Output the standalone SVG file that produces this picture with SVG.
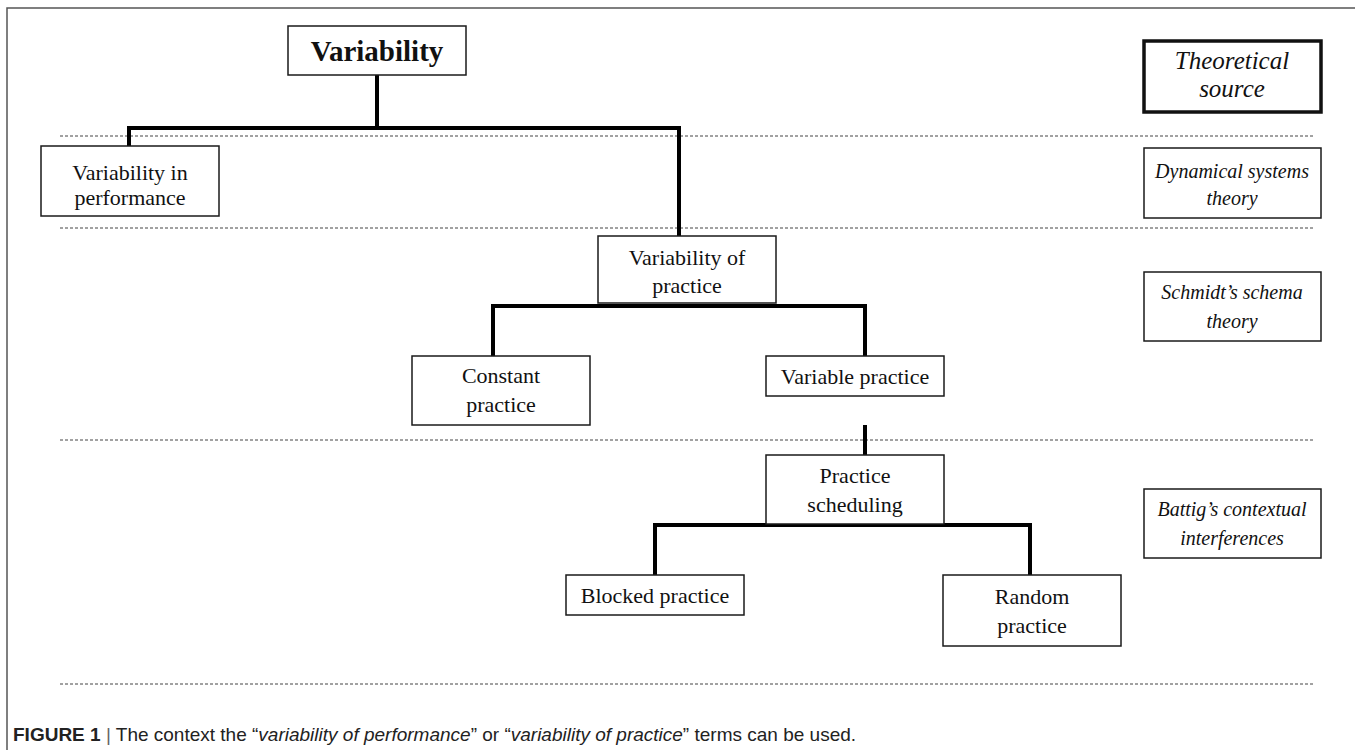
<svg xmlns="http://www.w3.org/2000/svg" width="1355" height="750" viewBox="0 0 1355 750">
<style>
.frame{fill:none;stroke:#555;stroke-width:1.5}
.dash{fill:none;stroke:#444;stroke-width:1;stroke-dasharray:3 2}
.box{fill:#fff;stroke:#1a1a1a;stroke-width:1.5}
.boxb{fill:#fff;stroke:#111;stroke-width:3.5}
.conn{fill:none;stroke:#000;stroke-width:4;stroke-linejoin:miter;stroke-linecap:butt}
.t{font-family:"Liberation Serif","Times New Roman",serif;font-size:22px;fill:#111;text-anchor:middle}
.ti{font-family:"Liberation Serif","Times New Roman",serif;font-size:20px;font-style:italic;fill:#111;text-anchor:middle}
.cap{font-family:"Liberation Sans",Arial,sans-serif;font-size:19px;fill:#222}
</style>
<rect width="1355" height="750" fill="#fff"/>
<path class="frame" d="M7,750 V8 H1355"/>
<g id="separators">
<line class="dash" x1="60" y1="136" x2="1313" y2="136"/>
<line class="dash" x1="60" y1="228" x2="1313" y2="228"/>
<line class="dash" x1="60" y1="440" x2="1313" y2="440"/>
<line class="dash" x1="60" y1="684" x2="1313" y2="684"/>
</g>
<g id="connectors">
<path class="conn" d="M377,75 V128"/>
<path class="conn" d="M129,146 V128 H679 V236"/>
<path class="conn" d="M493,356 V306 H865 V356"/>
<path class="conn" d="M865,425 V455"/>
<path class="conn" d="M655,575 V525 H1030 V575"/>
</g>
<g id="n-variability">
<rect class="box" x="288" y="26" width="178" height="49"/>
<text class="t" x="377" y="61" style="font-size:29px;font-weight:bold">Variability</text>
</g>
<g id="n-perf">
<rect class="box" x="41" y="146" width="178" height="70"/>
<text class="t" x="130" y="180">Variability in</text>
<text class="t" x="130" y="205">performance</text>
</g>
<g id="n-vpractice">
<rect class="box" x="598" y="236" width="178" height="67"/>
<text class="t" x="687" y="265">Variability of</text>
<text class="t" x="687" y="293">practice</text>
</g>
<g id="n-constant">
<rect class="box" x="412" y="356" width="178" height="69"/>
<text class="t" x="501" y="383">Constant</text>
<text class="t" x="501" y="412">practice</text>
</g>
<g id="n-variable">
<rect class="box" x="766" y="356" width="178" height="40"/>
<text class="t" x="855" y="384">Variable practice</text>
</g>
<g id="n-scheduling">
<rect class="box" x="766" y="455" width="178" height="69"/>
<text class="t" x="855" y="483">Practice</text>
<text class="t" x="855" y="512">scheduling</text>
</g>
<g id="n-blocked">
<rect class="box" x="566" y="575" width="178" height="40"/>
<text class="t" x="655" y="603">Blocked practice</text>
</g>
<g id="n-random">
<rect class="box" x="943" y="575" width="178" height="71"/>
<text class="t" x="1032" y="604">Random</text>
<text class="t" x="1032" y="633">practice</text>
</g>
<g id="n-theoretical">
<rect class="boxb" x="1144" y="41" width="177" height="71"/>
<text class="ti" x="1232" y="69" style="font-size:25px">Theoretical</text>
<text class="ti" x="1232" y="97" style="font-size:25px">source</text>
</g>
<g id="n-dynamical">
<rect class="box" x="1144" y="148" width="177" height="70"/>
<text class="ti" x="1232" y="178">Dynamical systems</text>
<text class="ti" x="1232" y="205">theory</text>
</g>
<g id="n-schmidt">
<rect class="box" x="1144" y="272" width="177" height="69"/>
<text class="ti" x="1232" y="299">Schmidt’s schema</text>
<text class="ti" x="1232" y="328">theory</text>
</g>
<g id="n-battig">
<rect class="box" x="1144" y="489" width="177" height="69"/>
<text class="ti" x="1232" y="516">Battig’s contextual</text>
<text class="ti" x="1232" y="545">interferences</text>
</g>
<text class="cap" x="13" y="741"><tspan font-weight="bold">FIGURE 1</tspan> <tspan fill="#666">|</tspan> The context the “<tspan font-style="italic">variability of performance</tspan>” or “<tspan font-style="italic">variability of practice</tspan>” terms can be used.</text>
</svg>
